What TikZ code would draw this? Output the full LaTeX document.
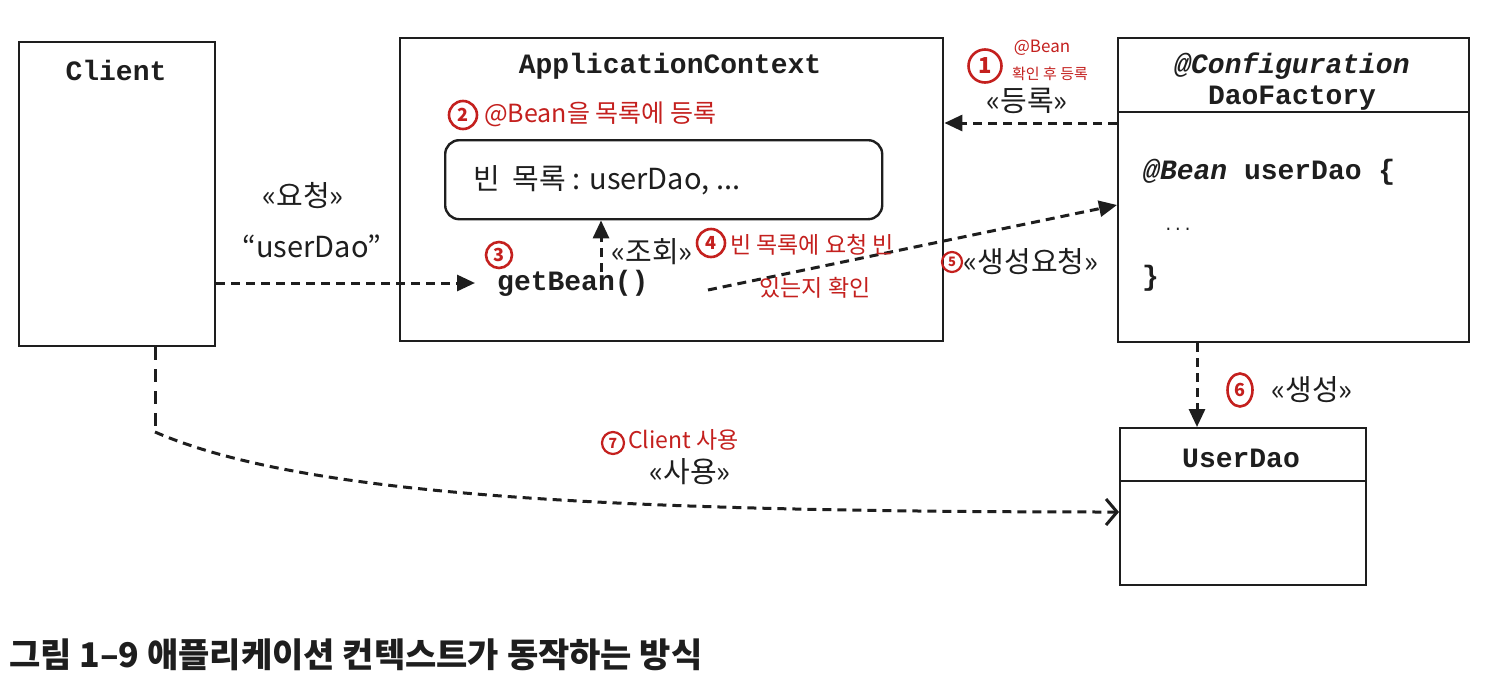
\documentclass[tikz,border=0pt]{standalone}
\usepackage{fontspec}
\setmonofont{Liberation Mono}
\newfontfamily\kr{Noto Sans CJK KR}
\usetikzlibrary{arrows.meta,shapes.geometric}
\definecolor{annred}{RGB}{196,32,30}
\definecolor{ink}{RGB}{30,30,30}
\begin{document}
\begin{tikzpicture}[x=1pt,y=-1pt,
  box/.style={draw=ink, line width=2.4pt, inner sep=0pt, anchor=north west},
  conn/.style={draw=ink, line width=3pt, dash pattern=on 9pt off 6pt, -{Triangle[length=18pt,width=16pt]}},
  kl/.style={text=ink, font=\kr\fontsize{29}{34}\selectfont, inner sep=0pt},
  mono/.style={text=ink, font=\ttfamily\bfseries\fontsize{28}{32}\selectfont, inner sep=0pt},
  ann/.style={text=annred, font=\kr\fontsize{23}{27}\selectfont, inner sep=0pt},
  badge/.style={draw=annred, line width=2.6pt, circle, text=annred, inner sep=0pt, font=\kr\bfseries\fontsize{18}{20}\selectfont}
]
\useasboundingbox[fill=white] (0,0) rectangle (1491,686);

% ---------- Client ----------
\node[box, minimum width=196pt, minimum height=304pt] (client) at (18,41) {};
\node[mono] (clientT) at (116,70) {Client};

% ---------- ApplicationContext ----------
\node[box, minimum width=543pt, minimum height=303pt] (ctx) at (399,37) {};
\node[mono] (ctxT) at (670,66) {ApplicationContext};
\node[draw=ink, line width=2.4pt, rounded corners=14pt, minimum width=437pt, minimum height=79pt, anchor=north west, inner sep=0pt] (list) at (444,139) {};
\node[kl, anchor=west] (listT) at (473,180) {빈\ \ 목록 : userDao, ...};
\node[mono, anchor=west] (gb) at (497,283) {getBean()};

% ---------- DaoFactory ----------
\node[box, minimum width=351pt, minimum height=304pt] (df) at (1117,37) {};
\draw[draw=ink, line width=2.4pt] ([yshift=-75pt]df.north west) -- ([yshift=-75pt]df.north east);
\node[mono, font=\ttfamily\bfseries\itshape\fontsize{28}{32}\selectfont] (dfA) at (1292,66) {@Configuration};
\node[mono] (dfB) at (1292,98) {DaoFactory};
\node[mono, anchor=west] (dfC) at (1143,172) {{\itshape @Bean} userDao \{};
\node[text=ink, font=\ttfamily\fontsize{16}{18}\selectfont, inner sep=0pt] (dfD) at (1178,229) {...};
\node[mono, anchor=west] (dfE) at (1142,278) {\}};

% ---------- UserDao ----------
\node[box, minimum width=246pt, minimum height=157pt] (ud) at (1119,427) {};
\draw[draw=ink, line width=2.4pt] ([yshift=-54pt]ud.north west) -- ([yshift=-54pt]ud.north east);
\node[mono] (udT) at (1241,458) {UserDao};

% ---------- connectors ----------
\draw[conn] (client.east |- gb.west) -- ([xshift=-22pt]gb.west);
\coordinate (q) at (601,272);
\draw[conn] (q) -- (q |- list.south);
\coordinate (r) at (0,123);
\draw[conn] (df.west |- r) -- (ctx.east |- r);
\coordinate (s) at (708,290);
\coordinate (se) at (0,205);
\draw[conn] (s) -- (df.west |- se);
\coordinate (g) at (1197,0);
\draw[conn] (g |- df.south) -- (g |- ud.north);
\coordinate (u) at (155,0);
\coordinate (ub) at (155,432);
\coordinate (ue) at (0,512);
\draw[draw=ink, line width=3pt, dash pattern=on 13pt off 9pt] (u |- client.south) -- (ub);
\draw[draw=ink, line width=3pt, dash pattern=on 9pt off 6pt, -{Straight Barb[length=11pt,width=26pt,line width=3pt]}]
  (ub) .. controls (300,495) and (600,512) .. (ud.west |- ue);

% ---------- labels ----------
\node[kl] (l1) at (303,196) {«요청»};
\node[kl] (l2) at (312,246) {“userDao”};
\node[kl] (l3) at (652,252) {«조회»};
\node[kl] (l4) at (1027,101) {«등록»};
\node[kl] (l5) at (1031,262) {«생성요청»};
\node[kl] (l6) at (1312,390) {«생성»};
\node[kl] (l7) at (690,472) {«사용»};

% ---------- caption ----------
\node[anchor=west, inner sep=0pt, text=ink, font=\kr\bfseries\fontsize{34}{38}\selectfont] (cap) at (9,655) {그림 1–9 애플리케이션 컨텍스트가 동작하는 방식};

% ---------- red annotations ----------
\node[badge, minimum size=33pt, font=\kr\bfseries\fontsize{22}{24}\selectfont] (a1) at (985,66) {1};
\node[ann, font=\kr\fontsize{17}{19}\selectfont] (a1t) at (1042,48) {@Bean};
\node[ann, font=\kr\fontsize{15}{18}\selectfont] (a1u) at (1050,74) {확인 후 등록};
\node[badge, minimum size=28pt] (a2) at (463,115) {2};
\node[ann, anchor=west, font=\kr\fontsize{25}{29}\selectfont] (a2t) at (484,114) {@Bean을 목록에 등록};
\node[badge, minimum size=26pt] (a3) at (499,255) {3};
\node[badge, minimum size=28pt] (a4) at (711,243) {4};
\node[ann, anchor=west] (a4t) at (730,245) {빈 목록에 요청 빈};
\node[ann] (a4u) at (815,288) {있는지 확인};
\node[badge, minimum size=20pt, line width=2.2pt, font=\kr\bfseries\fontsize{13}{14}\selectfont] (a5) at (952,262) {5};
\node[draw=annred, line width=2.6pt, ellipse, text=annred, inner sep=0pt, minimum width=25pt, minimum height=33pt, font=\kr\bfseries\fontsize{18}{20}\selectfont] (a6) at (1240,390) {6};
\node[badge, minimum size=22pt, line width=2.2pt, font=\kr\bfseries\fontsize{14}{16}\selectfont] (a7) at (613,443) {7};
\node[ann, anchor=west, font=\kr\fontsize{23}{27}\selectfont] (a7t) at (628,440) {Client 사용};
\end{tikzpicture}
\end{document}
